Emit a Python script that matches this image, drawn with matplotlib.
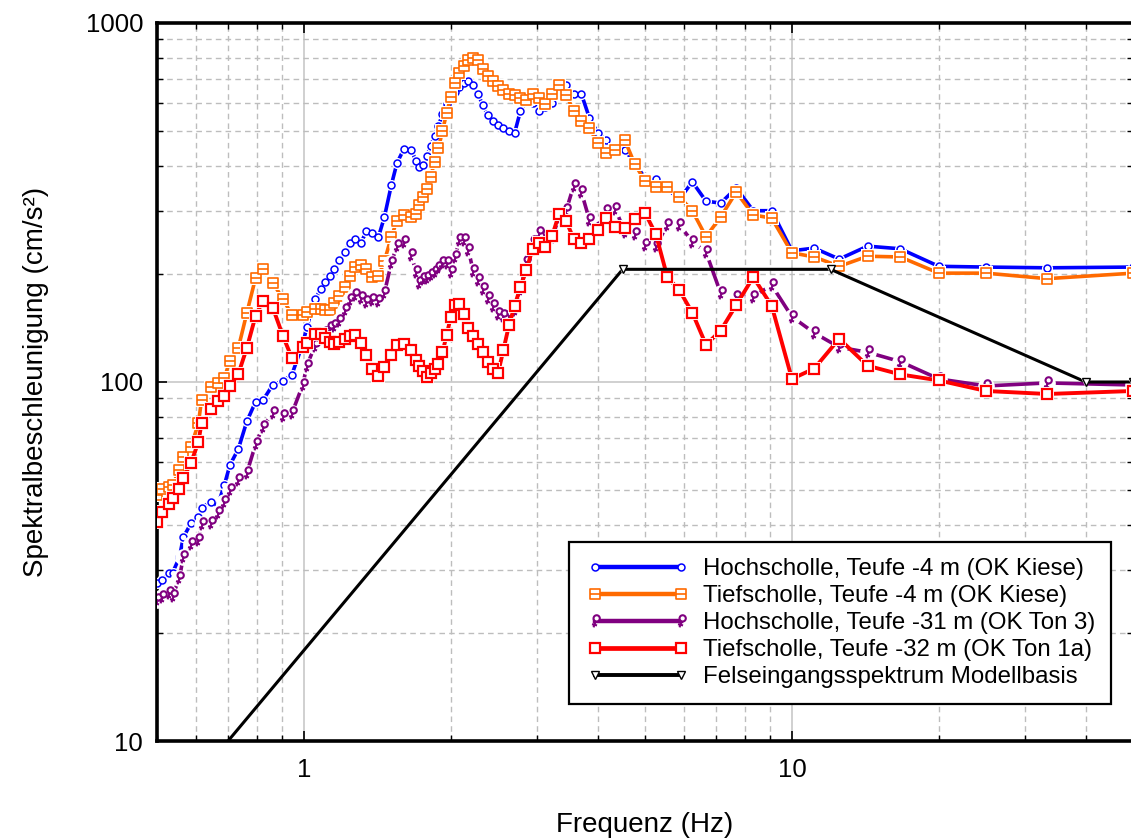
import numpy as np
import matplotlib.pyplot as plt
from matplotlib.path import Path
from matplotlib.lines import Line2D
from matplotlib.legend_handler import HandlerLine2D
from matplotlib.ticker import LogLocator, NullFormatter

plt.rcParams['font.family'] = ['Liberation Sans', 'DejaVu Sans']

# Frequencies of the response spectra (Hz)
freq = [0.50, 0.511, 0.529, 0.538, 0.556, 0.566, 0.587, 0.608, 0.617, 0.645,
        0.666, 0.687, 0.705, 0.734, 0.764, 0.796, 0.824, 0.864, 0.906, 0.945,
        0.995,
        1.014, 1.053, 1.083, 1.104, 1.131, 1.155, 1.182, 1.213, 1.242, 1.272,
        1.309, 1.343, 1.381, 1.421, 1.462, 1.511, 1.551, 1.603, 1.661,
        1.695, 1.724, 1.754, 1.786, 1.818, 1.852, 1.887, 1.923, 1.961, 2.0,
        2.041, 2.083, 2.128, 2.174, 2.222, 2.273, 2.326, 2.381, 2.439, 2.5,
        2.564, 2.632, 2.703, 2.778, 2.857, 2.941, 3.030, 3.125, 3.226, 3.333,
        3.448, 3.571, 3.704, 3.846, 4.0, 4.167, 4.348, 4.545, 4.762, 5.0,
        5.263, 5.556, 5.882, 6.25, 6.667, 7.143, 7.692, 8.333, 9.091,
        10.0, 11.11, 12.5, 14.29, 16.67, 20.0, 25.0, 33.33, 50.0]

# Spectral acceleration (cm/s^2)
hoch_4m = [27.5, 28.1, 29.4, 29.4, 32.5, 36.9, 40.4, 42.2, 44.7, 46.3,
           45.4, 51.6, 58.6, 65.1, 77.7, 88.0, 88.9, 98.3, 100.6, 104.8,
           128,
           142, 170, 181, 190, 197, 207, 218, 230, 244, 251,
           244, 263, 260, 253, 288, 354, 407, 446, 444,
           413, 397, 402, 426, 454, 484, 517, 558, 595, 626,
           642, 663, 681, 689, 672, 634, 591, 554, 533, 520,
           510, 500, 494, 569, 610, 599, 569, 583, 599, 681,
           672, 634, 634, 544, 494, 472, 440, 443, 407, 370,
           368, 345, 323, 361, 319, 315, 347, 300, 300,
           232, 236, 220, 239, 235, 210, 209, 208, 209]

tief_4m = [48.4, 50.4, 51.0, 51.7, 56.9, 61.8, 65.9, 76.9, 89.1, 96.9,
           99.4, 102.6, 114.4, 124.4, 155.7, 194.9, 206.4, 188.7, 170.3, 153.7,
           153.7,
           157, 160, 160, 159, 159, 166, 174, 184, 197, 209,
           212, 206, 196, 197, 217, 254, 281, 292, 288,
           294, 311, 328, 345, 372, 410, 449, 500, 562, 622,
           681, 726, 759, 789, 799, 789, 745, 712, 689, 668,
           651, 634, 630, 618, 610, 634, 618, 595, 634, 672,
           630, 569, 533, 510, 463, 435, 443, 472, 405, 363,
           349, 349, 328, 300, 254, 288, 338, 292, 286,
           229, 223, 210, 224, 223, 201, 201, 194, 201]

hoch_31m = [24.7, 25.2, 25.8, 25.4, 28.4, 32.6, 35.3, 36.4, 40.2, 40.6,
            43.2, 46.2, 50.0, 53.3, 55.8, 67.0, 75.1, 81.8, 80.3, 81.8,
            98.3,
            111, 126, 134, 137, 141, 143, 148, 159, 169, 175,
            171, 167, 169, 168, 177, 215, 239, 246, 226,
            203, 189, 194, 195, 199, 203, 208, 215, 215, 203,
            223, 249, 249, 233, 204, 192, 182, 171, 163, 155,
            153, 153, 159, 180, 216, 246, 260, 255, 252, 288,
            301, 352, 338, 283, 269, 300, 303, 262, 258, 241,
            239, 274, 274, 246, 230, 177, 173, 173, 186,
            152, 137, 125, 121, 114, 102, 97.5, 99.4, 98.1]

tief_32m = [40.7, 43.4, 45.7, 47.5, 50.4, 54.0, 59.5, 68.1, 76.9, 84.1,
            88.5, 91.4, 97.5, 105.3, 124.4, 152.7, 168.1, 160.7, 134.3, 116.6,
            125.2,
            128.4, 136, 136, 132.6, 129.2, 127.6, 129.2, 131.7, 134.3, 135.2,
            128.4, 118.9, 108.7, 103.9, 110.1, 118.9, 126.8, 127.6, 122.8,
            115, 111, 107, 103, 106, 109, 112, 121, 135, 152,
            164, 165, 155, 141, 134, 128, 121, 114, 109, 106,
            123, 144, 163, 184, 205, 235, 244, 238, 255, 294,
            281, 250, 244, 250, 265, 286, 270, 269, 285, 296,
            258, 196, 180, 156, 127, 139, 164, 196, 163,
            102, 109, 132, 111, 105, 101, 94.4, 92.6, 94.4]

# Rock input spectrum at the model base
fels_freq = [0.5, 4.5, 12.0, 40.0, 50.0]
fels_sa = [5.8, 206, 206, 100, 100]

labels = ['Hochscholle, Teufe -4 m (OK Kiese)',
          'Tiefscholle, Teufe -4 m (OK Kiese)',
          'Hochscholle, Teufe -31 m (OK Ton 3)',
          'Tiefscholle, Teufe -32 m (OK Ton 1a)',
          'Felseingangsspektrum Modellbasis']

# custom markers: square with a bar, and a small venus-like glyph
sq_bar = Path([(-1, -1), (1, -1), (1, 1), (-1, 1), (-1, -1), (-1, 0), (1, 0)],
              [Path.MOVETO, Path.LINETO, Path.LINETO, Path.LINETO,
               Path.CLOSEPOLY, Path.MOVETO, Path.LINETO])
venus = Path.make_compound_path(
    Path.circle((0.15, 0.4), 0.4),
    Path([(0.0, 0.0), (-0.25, -0.75), (-0.45, -0.35), (0.2, -0.5)],
         [Path.MOVETO, Path.LINETO, Path.MOVETO, Path.LINETO]))

styles = [
    dict(color='#0000ff', marker='o', ms=5.0, mew=1.1, halo='o', lw=2.6),
    dict(color='#ff6a00', marker=sq_bar, ms=6.5, mew=1.2, halo='s', lw=2.6),
    dict(color='#800080', marker=venus, ms=9.0, mew=1.5, halo='o', lw=2.6),
    dict(color='#ff0000', marker='s', ms=7.5, mew=1.6, halo='s', lw=2.8),
    dict(color='black', marker='v', ms=6.0, mew=1.0, halo='v', lw=2.2),
]
series = [(freq, hoch_4m), (freq, tief_4m), (freq, hoch_31m),
          (freq, tief_32m), (fels_freq, fels_sa)]

fig = plt.figure(figsize=(11.31, 8.39), dpi=100)
ax = fig.add_axes([0.1388, 0.1168, 0.8630, 0.8558])

for i, ((x, y), st) in enumerate(zip(series, styles)):
    z = 3 + i
    ax.plot(x, y, color=st['color'], lw=st['lw'], zorder=z)
    ax.plot(x, y, ls='none', marker=st['halo'], ms=st['ms'] + 3.0,
            mfc='white', mec='white', mew=0, zorder=z + 0.1)
    ax.plot(x, y, ls='none', marker=st['marker'], ms=st['ms'],
            mfc='white', mec=st['color'], mew=st['mew'], zorder=z + 0.2)

ax.set_xscale('log')
ax.set_yscale('log')
ax.set_xlim(0.5, 50)
ax.set_ylim(10, 1000)

ax.set_xticks([1, 10])
ax.set_xticklabels(['1', '10'])
ax.set_yticks([10, 100, 1000])
ax.set_yticklabels(['10', '100', '1000'])
ax.xaxis.set_minor_locator(LogLocator(base=10, subs=np.arange(2, 10)))
ax.yaxis.set_minor_locator(LogLocator(base=10, subs=np.arange(2, 10)))
ax.xaxis.set_minor_formatter(NullFormatter())
ax.yaxis.set_minor_formatter(NullFormatter())

ax.tick_params(which='both', direction='in', top=True, right=True)
ax.tick_params(which='major', length=7, width=1.2, labelsize=18.5)
ax.tick_params(which='minor', length=4, width=1.0)
ax.tick_params(axis='x', which='major', pad=12)
ax.tick_params(axis='y', which='major', pad=10)

ax.grid(True, which='major', color='#c8c8c8', lw=1.2, ls='-')
ax.grid(True, which='minor', color='#bdbdbd', lw=1.0, ls=(0, (4, 3)))
ax.set_axisbelow(True)

for sp in ax.spines.values():
    sp.set_linewidth(2.6)

ax.set_xlabel('Frequenz (Hz)', fontsize=20, labelpad=22)
ax.set_ylabel('Spektralbeschleunigung (cm/s²)', fontsize=20, labelpad=26)

handles = [Line2D([], [], color=st['color'], lw=st['lw'] + 0.6,
                  marker=st['marker'], ms=st['ms'], mfc='white',
                  mec=st['color'], mew=st['mew']) for st in styles]
leg = ax.legend(handles, labels, loc='lower left',
                bbox_to_anchor=(0.422, 0.0515), borderaxespad=0,
                fontsize=17.3, frameon=True, fancybox=False, framealpha=1,
                edgecolor='black', borderpad=0.66, labelspacing=0.21,
                handlelength=4.42, handletextpad=0.5,
                handler_map={Line2D: HandlerLine2D(numpoints=2, marker_pad=0.42)})
leg.get_frame().set_linewidth(1.6)
leg.set_zorder(20)

fig.savefig('out.png', dpi=100)
